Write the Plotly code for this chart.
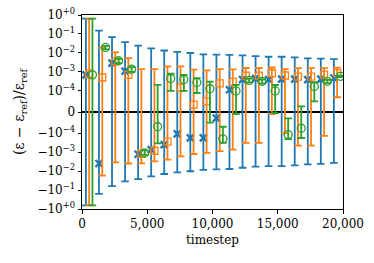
import numpy as np
import plotly.graph_objects as go

# ---- data ----
blue_ts = [300, 1300, 2300, 3300, 4300, 5300, 6300, 7300, 8300, 9300,
           10300, 11300, 12300, 13300, 14300, 15300, 16300, 17300, 18300, 19300]
blue_val = [7e-4, -4e-3, 2.9e-3, 1.1e-3, -1.3e-3, -7.5e-4, -4.1e-4, -1.1e-4, -1.8e-4, -1.8e-4,
            -2.9e-5, 1.15e-4, 3.9e-4, 4.4e-4, 4.0e-4, 4.2e-4, 4.2e-4, 3.9e-4, 4.2e-4, 4.8e-4]
blue_err = [0.645, 0.154, 0.0646, 0.0363, 0.0254, 0.0182, 0.0139, 0.0116, 0.0101, 0.0086,
            0.0081, 0.0079, 0.0071, 0.0063, 0.0059, 0.0059, 0.0054, 0.0048, 0.0046, 0.0042]

orange_ts = [550, 1550, 2550, 3550, 4550, 5550, 6550, 7550, 8550, 9550,
             10550, 11550, 12550, 13550, 14550, 15550, 16550, 17550, 18550, 19550]
orange_val = [8e-4, 5.1e-4, 3.6e-3, 7e-4, -1.25e-3, -8.5e-4, -2.8e-4, 1.5e-4, 3.5e-5, 5e-5,
              2.5e-4, 3e-4, 6.4e-4, 6.4e-4, 8.5e-4, 6.5e-4, 5.7e-4, 5.7e-4, 7.3e-4, 8.7e-4]
orange_err = [0.65, 0.0178, 7.1e-3, 4.7e-3, 2.65e-3, 2.26e-3, 2.25e-3, 1.82e-3, 1.3e-3, 1.15e-3,
              1.15e-3, 1.05e-3, 9.7e-4, 9.7e-4, 8.6e-4, 7.5e-4, 1.03e-3, 1.03e-3, 8.7e-4, 8e-4]

green_ts = [800, 1800, 2800, 3800, 4800, 5800, 6800, 7800, 8800, 9800,
            10800, 11800, 12800, 13800, 14800, 15800, 16800, 17800, 18800, 19800]
green_val = [7e-4, 0.0195, 3.9e-3, 1.41e-3, -1.12e-3, -7e-5, 4.5e-4, 4e-4, 2.8e-4, 1.3e-4,
             -2e-4, 1e-4, 3.6e-4, 3.2e-4, 1e-4, -1.2e-4, -7.7e-5, 1.7e-4, 3.2e-4, 5.9e-4]
green_err = [0.65, 0.004, 1e-3, 4e-4, 3e-4, 2.8e-4, 3.5e-4, 3e-4, 1.9e-4, 1.8e-4,
             1.3e-4, 1.1e-4, 8e-5, 8e-5, 1.05e-4, 9e-5, 1.04e-4, 1.2e-4, 6e-5, 5e-5]

ytick_vals = [1, 1e-1, 1e-2, 1e-3, 1e-4, 0, -1e-4, -1e-3, -1e-2, -1e-1, -1]
ytick_text = ["10<sup>+0</sup>", "10<sup>−1</sup>", "10<sup>−2</sup>", "10<sup>−3</sup>",
              "10<sup>−4</sup>", "0", "−10<sup>−4</sup>", "−10<sup>−3</sup>",
              "−10<sup>−2</sup>", "−10<sup>−1</sup>", "−10<sup>+0</sup>"]
xtick_vals = [0, 5000, 10000, 15000, 20000]

# ---- symlog scale (linthresh 1e-4, linscale 1, base 10) ----
LINTHRESH = 1e-4
LINSCALE_ADJ = 1.0 / (1.0 - 1.0 / 10.0)


def symlog(v):
    v = np.asarray(v, dtype=float)
    a = np.abs(v)
    out = np.where(a <= LINTHRESH, v / LINTHRESH * LINSCALE_ADJ,
                   np.sign(v) * (LINSCALE_ADJ + np.log10(np.maximum(a, 1e-300) / LINTHRESH)))
    return out


fig = go.Figure()
series = [
    (blue_ts, blue_val, blue_err, "#1f77b4", dict(symbol="x-thin-open", size=7, line=dict(width=2.4, color="#1f77b4"))),
    (orange_ts, orange_val, orange_err, "#ff7f0e", dict(symbol="square-open", size=7, line=dict(width=1.3, color="#ff7f0e"))),
    (green_ts, green_val, green_err, "#2ca02c", dict(symbol="circle-open", size=8, line=dict(width=1.3, color="#2ca02c"))),
]
for ts, val, err, col, mk in series:
    v = np.array(val)
    e = np.array(err)
    y = symlog(v)
    up = symlog(v + e) - y
    dn = y - symlog(v - e)
    fig.add_trace(go.Scatter(
        x=ts, y=y, mode="markers", marker=dict(color=col, **mk),
        error_y=dict(type="data", symmetric=False, array=up, arrayminus=dn,
                     color=col, thickness=1.8, width=3.8),
        showlegend=False, hoverinfo="skip"))

ymax = float(symlog(1.0))
font = dict(family="DejaVu Serif", size=12, color="black")
fig.update_layout(
    width=374, height=263,
    margin=dict(l=82, r=31, t=15, b=54),
    paper_bgcolor="white", plot_bgcolor="white",
    font=font,
    xaxis=dict(range=[0, 20000], tickvals=xtick_vals, tickformat=",d",
               automargin=False,
               showgrid=False, zeroline=False, showline=True, mirror=True,
               linecolor="black", linewidth=1, ticks="outside", ticklen=3.5,
               tickcolor="black", tickwidth=0.8,
               title=dict(text="timestep", font=dict(family="DejaVu Serif", size=12), standoff=5)),
    yaxis=dict(range=[-ymax, ymax], tickvals=list(symlog(ytick_vals)), ticktext=ytick_text,
               automargin=False,
               showgrid=False, zeroline=True, zerolinecolor="black", zerolinewidth=2,
               showline=True, mirror=True, linecolor="black", linewidth=1,
               ticks="outside", ticklen=3.5, tickcolor="black", tickwidth=0.8,
               layer="above traces",
               title=dict(text="(ε − ε<sub>ref</sub>)/ε<sub>ref</sub>",
                          font=dict(family="DejaVu Serif", size=14), standoff=9)),
)

fig.write_html("out.html", config={"displayModeBar": False},
               post_script="document.body.style.margin='0px';")
